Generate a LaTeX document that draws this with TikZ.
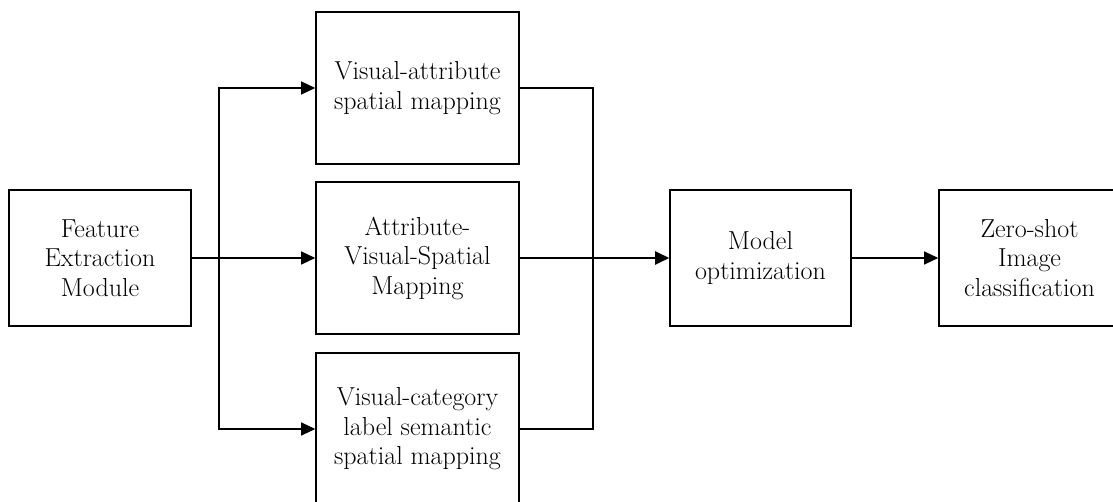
\documentclass[tikz,border=0pt]{standalone}
\usetikzlibrary{arrows.meta}
\tikzset{
    block/.style={draw=black, line width=1.6pt, align=center, inner sep=0pt,
        font=\fontsize{26}{29.5}\selectfont},
    link/.style={line width=1.2pt},
    arr/.style={link, -{Triangle[length=14pt,width=13pt]}}
}
\begin{document}
\begin{tikzpicture}[x=1pt,y=-1pt]
\useasboundingbox (0,0) rectangle (1113,502);
\clip (0,0) rectangle (1113,502);
% boxes
\node[block, minimum width=182pt, minimum height=136pt] (feat) at (100,258) {Feature\\Extraction\\Module};
\node[block, minimum width=203pt, minimum height=152pt] (vam) at (417.5,88) {Visual-attribute\\spatial mapping};
\node[block, minimum width=203pt, minimum height=152pt] (avsm) at (417.5,258) {Attribute-\\Visual-Spatial\\Mapping};
\node[block, minimum width=203pt, minimum height=152pt] (vcm) at (417.5,429) {Visual-category\\label semantic\\spatial mapping};
\node[block, minimum width=181pt, minimum height=136pt] (opt) at (760.5,258) {Model\\optimization};
\node[block, minimum width=181pt, minimum height=136pt] (zsc) at (1029.5,258) {Zero-shot\\Image\\classification};
\coordinate (split) at (219,258);
\coordinate (merge) at (593,258);
% connectors
\draw[link, line width=2.4pt] (feat.east) -- (split);
\draw[arr] (split) |- (vam.west);
\draw[arr] (split) -- (avsm.west);
\draw[arr] (split) |- (vcm.west);
\draw[link] (vam.east) -| (merge);
\draw[link] (avsm.east) -- (merge);
\draw[link] (vcm.east) -| (merge);
\draw[arr, line width=2.4pt] (merge) -- (opt.west);
\draw[arr] (opt.east) -- (zsc.west);
\end{tikzpicture}
\end{document}
